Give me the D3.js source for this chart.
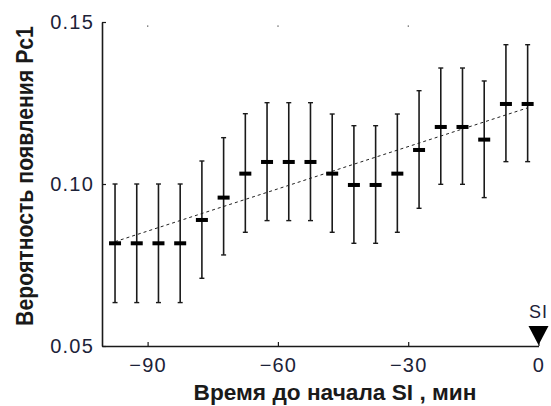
<!DOCTYPE html>
<html>
<head>
<meta charset="utf-8">
<script src="https://cdn.jsdelivr.net/npm/d3@7"></script>
<style>
  body { margin: 0; background: #fff; }
  svg { display: block; }
</style>
</head>
<body>
<svg id="chart" width="551" height="406"></svg>
<script>
// time before SI onset (bin centres), min
var times = [-97.5, -92.5, -87.5, -82.5, -77.5, -72.5, -67.5, -62.5, -57.5, -52.5,
             -47.5, -42.5, -37.5, -32.5, -27.5, -22.5, -17.5, -12.5, -7.5, -2.5];

// probability of Pc1 and its error bounds
var means = [0.0817, 0.0817, 0.0817, 0.0817, 0.0889, 0.0958, 0.1032, 0.1068, 0.1068, 0.1068,
             0.1032, 0.0997, 0.0997, 0.1032, 0.1105, 0.1176, 0.1176, 0.1137, 0.1247, 0.1247];
var upper = [0.1000, 0.1000, 0.1000, 0.1000, 0.1071, 0.1143, 0.1217, 0.1251, 0.1251, 0.1251,
             0.1216, 0.1180, 0.1180, 0.1216, 0.1288, 0.1358, 0.1358, 0.1318, 0.1430, 0.1430];
var lower = [0.0634, 0.0634, 0.0634, 0.0634, 0.0709, 0.0781, 0.0851, 0.0887, 0.0887, 0.0887,
             0.0851, 0.0817, 0.0817, 0.0851, 0.0925, 0.0999, 0.0999, 0.0958, 0.1069, 0.1069];

// linear trend
var trendX = [-97.5, -2.5];
var trendY = [0.0822, 0.1235];

var xTicks = [-90, -60, -30, 0];
var yTicks = [0.05, 0.10, 0.15];

var svg = d3.select("#chart");

var x = d3.scaleLinear().domain([-100.5, 0]).range([102, 538.5]);
var y = d3.scaleLinear().domain([0.05, 0.15]).range([346, 22]);

var ink = "#1a1a1a";
var labelFont = "'Liberation Sans', Arial, sans-serif";

// x axis
var xAxis = d3.axisBottom(x)
  .tickValues(xTicks)
  .tickFormat(d3.format("d"))
  .tickSizeInner(-4).tickSizeOuter(0)
  .tickPadding(12);

var gx = svg.append("g")
  .attr("transform", "translate(0,346)")
  .call(xAxis);

// y axis
var yAxis = d3.axisLeft(y)
  .tickValues(yTicks)
  .tickFormat(d3.format(".2f"))
  .tickSizeInner(-4).tickSizeOuter(0)
  .tickPadding(9);

var gy = svg.append("g")
  .attr("transform", "translate(102,0)")
  .call(yAxis);

[gx, gy].forEach(function(g) {
  g.select(".domain").attr("stroke", ink).attr("stroke-width", 1.6);
  g.selectAll(".tick line").attr("stroke", ink).attr("stroke-width", 1.2);
  g.selectAll(".tick text")
    .attr("fill", "#1c2238")
    .style("font-family", labelFont)
    .style("font-size", "20px")
    .attr("letter-spacing", "1.2px");
});
gy.selectAll(".tick text").attr("dx", "1px");

// tiny dots where the top ticks would be
svg.append("g").selectAll("rect")
  .data(xTicks.slice(0, 3))
  .enter().append("rect")
  .attr("x", function(d) { return x(d) - 0.5; })
  .attr("y", 25.5)
  .attr("width", 1.2)
  .attr("height", 1.2)
  .attr("fill", "#444");

// trend line
var line = d3.line()
  .x(function(d) { return x(d[0]); })
  .y(function(d) { return y(d[1]); });

svg.append("path")
  .datum(d3.zip(trendX, trendY))
  .attr("d", line)
  .attr("fill", "none")
  .attr("stroke", "#222")
  .attr("stroke-width", 1)
  .attr("stroke-dasharray", "3,3");

// error bars
var rows = times.map(function(t, i) {
  return { t: t, m: means[i], hi: upper[i], lo: lower[i] };
});

var bar = svg.append("g").selectAll("g")
  .data(rows)
  .enter().append("g");

bar.append("line")
  .attr("x1", function(d) { return x(d.t); })
  .attr("x2", function(d) { return x(d.t); })
  .attr("y1", function(d) { return y(d.hi); })
  .attr("y2", function(d) { return y(d.lo); })
  .attr("stroke", ink)
  .attr("stroke-width", 1.6);

["hi", "lo"].forEach(function(k) {
  bar.append("line")
    .attr("x1", function(d) { return x(d.t) - 2.5; })
    .attr("x2", function(d) { return x(d.t) + 2.5; })
    .attr("y1", function(d) { return y(d[k]); })
    .attr("y2", function(d) { return y(d[k]); })
    .attr("stroke", ink)
    .attr("stroke-width", 1.4);
});

// mean markers
bar.append("rect")
  .attr("x", function(d) { return x(d.t) - 6; })
  .attr("y", function(d) { return y(d.m) - 2; })
  .attr("width", 12)
  .attr("height", 4)
  .attr("fill", "#000");

// SI marker on the axis
var sx = x(0);
svg.append("path")
  .attr("d", d3.line()([[sx - 10, 326], [sx + 10, 326], [sx, 345]]) + "Z")
  .attr("fill", "#000");

svg.append("text")
  .attr("x", sx)
  .attr("y", 318)
  .attr("text-anchor", "middle")
  .style("font-family", labelFont)
  .style("font-size", "18px")
  .attr("letter-spacing", "1px")
  .attr("fill", "#1c2238")
  .text("SI");

// axis titles, stretched a bit wider like the original
function title(str, size, width, transform) {
  var g = svg.append("g").attr("transform", transform);
  var t = g.append("text")
    .attr("text-anchor", "middle")
    .style("font-family", labelFont)
    .style("font-weight", "bold")
    .style("font-size", size + "px")
    .attr("fill", ink)
    .text(str);
  var k = width / t.node().getComputedTextLength();
  t.attr("transform", "scale(" + k + ",1)");
}

title("Время до начала SI , мин", 22, 283, "translate(335,400)");
title("Вероятность появления Pc1", 23, 300, "translate(33,176) rotate(-90)");
</script>
</body>
</html>
